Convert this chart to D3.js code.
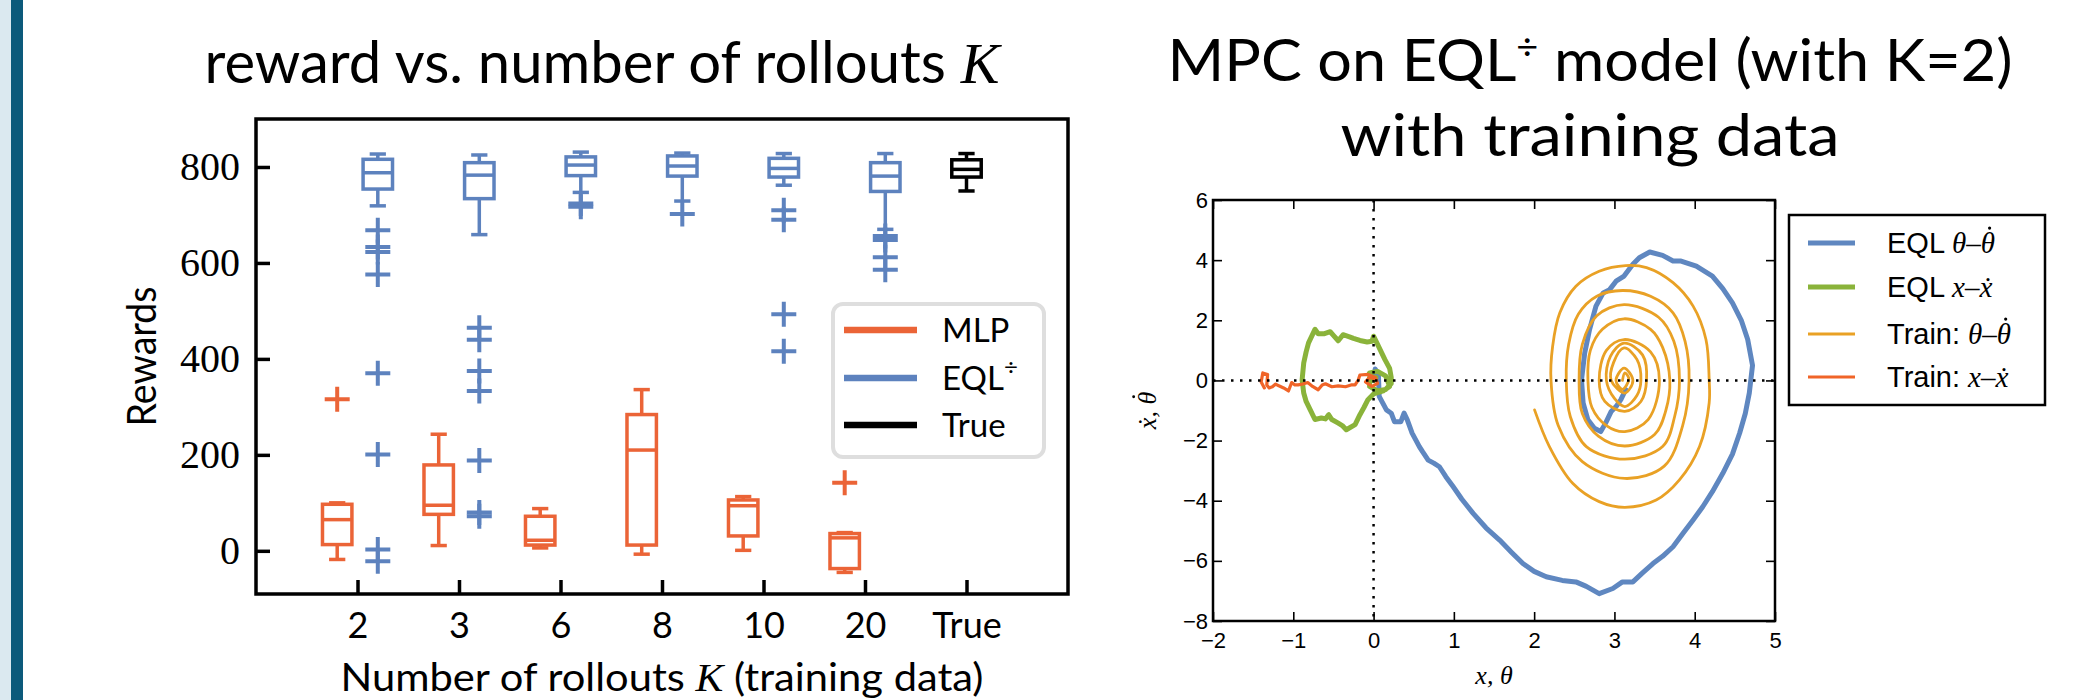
<!DOCTYPE html>
<html><head><meta charset="utf-8">
<script src="https://cdn.jsdelivr.net/npm/d3@7"></script>
<style>body{margin:0;background:#fff}svg{display:block}</style>
</head><body>
<svg id="c" width="2100" height="700"></svg>
<script>
// ---------------- DATA: left chart (box plots) ----------------
const categories = ["2","3","6","8","10","20","True"];
// MLP (first six categories)
const mlpLow    = [-18, 11,  6,  -7,   1, -45];
const mlpQ1     = [ 13, 76, 12,  12,  31, -37];
const mlpMedian = [ 65, 95, 22, 210,  94,  27];
const mlpQ3     = [ 97,179, 72, 284, 106,  36];
const mlpHigh   = [100,243, 88, 336, 113,  38];
const mlpOutliers = [[316],[],[],[],[],[142]];
// EQL÷ (first six categories)
const eqlLow    = [719,659,747,729,762,670];
const eqlQ1     = [754,734,782,781,779,749];
const eqlMedian = [788,783,804,802,797,781];
const eqlQ3     = [816,809,821,823,818,809];
const eqlHigh   = [827,825,831,829,828,828];
const eqlOutliers = [
  [668,633,623,576,370,201,3,-22],
  [465,440,375,333,188,80,72],
  [724,717],
  [702],
  [710,690,493,416],
  [656,648,612,586]
];
// True
const trueStats = {low:750,q1:779,median:795,q3:815,high:828};
const yTicksLeft = [0,200,400,600,800];
const legendLeft = ["MLP","EQL","True"];

// ---------------- DATA: right chart (phase portraits) ----------------
const eqlThetaPath = [[0.0,0.0],[0.02,0.38],[0.06,0.2],[0.07,-0.53],[0.16,-0.98],[0.22,-1.09],[0.26,-1.37],[0.34,-1.37],[0.38,-1.09],[0.42,-1.31],[0.48,-1.75],[0.57,-2.2],[0.61,-2.37],[0.68,-2.65],[0.75,-2.75],[0.82,-2.87],[0.9,-3.2],[0.99,-3.53],[1.1,-3.95],[1.24,-4.42],[1.4,-4.9],[1.57,-5.31],[1.72,-5.72],[1.86,-6.09],[2.0,-6.35],[2.15,-6.53],[2.35,-6.65],[2.52,-6.70],[2.65,-6.85],[2.81,-7.09],[2.98,-6.92],[3.10,-6.70],[3.23,-6.70],[3.35,-6.4],[3.48,-6.09],[3.6,-5.85],[3.73,-5.53],[3.85,-5.1],[3.98,-4.64],[4.10,-4.2],[4.22,-3.7],[4.35,-3.09],[4.47,-2.45],[4.56,-1.75],[4.63,-1.1],[4.68,-0.42],[4.72,0.5],[4.66,1.36],[4.58,2.0],[4.47,2.58],[4.35,3.05],[4.22,3.47],[4.02,3.8],[3.83,3.97],[3.73,3.97],[3.60,4.16],[3.44,4.27],[3.31,4.08],[3.23,3.86],[3.12,3.47],[3.02,3.3],[2.94,3.02],[2.86,2.91],[2.77,2.47],[2.69,1.69],[2.63,0.91],[2.59,0.02],[2.61,-0.75],[2.67,-1.31],[2.75,-1.59],[2.83,-1.7],[2.89,-1.42],[2.96,-1.03],[3.02,-0.87],[3.08,-0.64],[3.14,-0.31]];
const eqlXPath = [[0.0,0.0],[-0.05,0.25],[0.05,0.3],[0.15,0.15],[0.2,-0.2],[0.12,-0.35],[0.0,-0.45],[-0.07,-0.64],[-0.12,-0.9],[-0.17,-1.14],[-0.23,-1.47],[-0.34,-1.64],[-0.39,-1.5],[-0.44,-1.42],[-0.52,-1.3],[-0.56,-1.14],[-0.6,-1.28],[-0.65,-1.25],[-0.73,-1.3],[-0.79,-0.97],[-0.84,-0.7],[-0.87,-0.42],[-0.89,0.02],[-0.87,0.58],[-0.84,0.95],[-0.81,1.25],[-0.73,1.7],[-0.69,1.55],[-0.62,1.55],[-0.54,1.62],[-0.50,1.5],[-0.44,1.32],[-0.38,1.52],[-0.30,1.45],[-0.25,1.4],[-0.17,1.33],[-0.08,1.28],[-0.02,1.3],[0.0,1.47],[0.05,1.2],[0.14,0.7],[0.2,0.4],[0.22,0.1],[0.22,-0.1],[0.15,-0.3],[0.05,-0.35],[-0.05,-0.2],[-0.05,0.1],[0.03,0.1]];
const trainThetaPath = [[2.005,-0.98],[2.19,-2.2],[2.48,-3.42],[2.81,-4.03],[3.13,-4.22],[3.52,-3.98],[3.81,-3.31],[4.06,-2.2],[4.18,-0.75],[4.18,0.02],[4.14,1.36],[3.98,2.47],[3.73,3.25],[3.40,3.75],[3.14,3.82],[2.81,3.63],[2.52,3.13],[2.32,2.25],[2.23,1.13],[2.21,0.0],
 [2.3,-1.5],[2.6,-2.7],[3.13,-3.26],[3.62,-2.85],[3.85,-1.5],[3.93,0.0],[3.88,1.3],[3.73,2.25],[3.45,2.8],[3.10,2.99],[2.78,2.8],[2.55,2.2],[2.43,1.2],[2.40,0.0],
 [2.45,-1.2],[2.65,-2.2],[3.13,-2.62],[3.6,-2.2],[3.75,-1.2],[3.81,0.0],[3.74,1.3],[3.55,2.1],[3.12,2.52],[2.78,2.15],[2.6,1.2],[2.56,0.0],
 [2.6,-1.1],[2.8,-1.85],[3.13,-2.18],[3.5,-1.8],[3.64,-1.0],[3.69,0.0],[3.6,1.1],[3.45,1.7],[3.12,2.05],[2.85,1.7],[2.7,1.0],[2.67,0.0],
 [2.72,-0.9],[2.9,-1.5],[3.13,-1.70],[3.42,-1.3],[3.56,0.0],[3.45,0.95],[3.12,1.36],[2.9,1.0],[2.81,0.0],
 [2.88,-0.7],[3.13,-1.03],[3.33,-0.7],[3.40,0.0],[3.35,0.85],[3.12,1.24],[2.95,0.8],[2.90,0.0],
 [3.0,-0.6],[3.13,-0.87],[3.28,-0.5],[3.33,0.0],[3.28,0.7],[3.12,1.08],[2.99,0.6],[2.96,0.0],
 [3.13,-0.42],[3.23,0.0],[3.12,0.41],[3.02,0.0],[3.10,-0.3],[3.18,0.05],[3.13,0.25],[3.10,0.0]];
const trainXPath = [[-1.36,-0.25],[-1.40,-0.05],[-1.38,0.25],[-1.32,0.2],[-1.33,-0.15],[-1.30,-0.25],[-1.26,-0.21],[-1.22,-0.12],[-1.18,-0.18],[-1.12,-0.25],[-1.06,-0.35],[-1.02,-0.07],[-0.98,-0.15],[-0.94,-0.15],[-0.88,-0.12],[-0.82,-0.07],[-0.76,-0.2],[-0.69,-0.31],[-0.64,-0.15],[-0.60,-0.11],[-0.52,-0.21],[-0.44,-0.18],[-0.35,-0.21],[-0.28,-0.15],[-0.23,-0.15],[-0.19,0.02],[-0.17,0.18],[-0.07,0.2],[0.02,0.1],[0.05,-0.1],[-0.02,-0.2],[-0.1,-0.05],[-0.05,0.1],[0.03,0.05]];
const xTicksRight = [-2,-1,0,1,2,3,4,5];
const yTicksRight = [-8,-6,-4,-2,0,2,4,6];

// ---------------- STYLE ----------------
const SANS = "Lato, 'Noto Sans', sans-serif";
const SERIF = "'Liberation Serif', 'DejaVu Serif', serif";
const ARIAL = "'Liberation Sans', Arial, sans-serif";
const C_MLP = "#eb6437", C_EQL = "#5d82be";
const C_B = "#5f87c0", C_G = "#8ab33a", C_O = "#e9a125", C_R = "#f06428";

const svg = d3.select("#c");
svg.append("rect").attr("x",0).attr("y",0).attr("width",11).attr("height",700).attr("fill","#dbe9f0");
svg.append("rect").attr("x",11).attr("y",0).attr("width",12).attr("height",700).attr("fill","#0c5a7b");

// accent dot over the last character of a text element (in the text's own coordinate system)
function dotOverLast(g, textSel, baseline, fs){
  const node = textSel.node();
  const n = node.getNumberOfChars();
  if(!n) return;
  const ext = node.getExtentOfChar(n-1);
  g.append("circle").attr("cx", ext.x + ext.width*0.62).attr("cy", baseline - fs*0.86)
    .attr("r", fs*0.055).attr("fill","#000");
}

// ================= LEFT CHART =================
const L = {x0:256, x1:1068, y0:119, y1:594};
const xL = d3.scaleLinear().domain([0,8]).range([L.x0,L.x1]);
const yL = d3.scaleLinear().domain([-90,900]).range([L.y1,L.y0]);

const t1 = svg.append("text").attr("x",602).attr("y",83).attr("text-anchor","middle")
  .attr("font-family",SANS).attr("font-size",58).attr("textLength",795).attr("lengthAdjust","spacingAndGlyphs");
t1.append("tspan").text("reward vs. number of rollouts ");
t1.append("tspan").attr("font-family",SERIF).attr("font-style","italic").text("K");

const gyL = svg.append("g").attr("transform",`translate(${L.x0},0)`)
  .call(d3.axisLeft(yL).tickValues(yTicksLeft).tickSizeInner(-14).tickSizeOuter(0).tickPadding(16).tickFormat(d3.format("d")));
const gxL = svg.append("g").attr("transform",`translate(0,${L.y1})`)
  .call(d3.axisBottom(xL).tickValues(d3.range(1,categories.length+1)).tickSizeInner(-14).tickSizeOuter(0).tickPadding(18).tickFormat(i=>categories[i-1]));
[gyL,gxL].forEach(g=>{g.select(".domain").remove(); g.selectAll(".tick line").attr("stroke","#000").attr("stroke-width",3.5);});
gyL.selectAll("text").attr("font-family",SERIF).attr("font-size",40).attr("fill","#000");
gxL.selectAll("text").attr("font-family",SANS).attr("font-size",36).attr("fill","#000");

const bw = xL(0.29)-xL(0), cw = xL(0.16)-xL(0);
function drawBox(g, cx, s, color){
  const gg = g.append("g").attr("stroke",color).attr("fill","none").attr("stroke-width",3.5);
  gg.append("line").attr("x1",cx).attr("x2",cx).attr("y1",yL(s.q3)).attr("y2",yL(s.high));
  gg.append("line").attr("x1",cx).attr("x2",cx).attr("y1",yL(s.q1)).attr("y2",yL(s.low));
  gg.append("line").attr("x1",cx-cw/2).attr("x2",cx+cw/2).attr("y1",yL(s.high)).attr("y2",yL(s.high));
  gg.append("line").attr("x1",cx-cw/2).attr("x2",cx+cw/2).attr("y1",yL(s.low)).attr("y2",yL(s.low));
  gg.append("rect").attr("x",cx-bw/2).attr("width",bw).attr("y",yL(s.q3)).attr("height",yL(s.q1)-yL(s.q3));
  gg.append("line").attr("x1",cx-bw/2).attr("x2",cx+bw/2).attr("y1",yL(s.median)).attr("y2",yL(s.median));
  (s.out||[]).forEach(v=>{
    const y=yL(v);
    gg.append("path").attr("stroke-width",4).attr("d",`M${cx-12.5},${y}H${cx+12.5}M${cx},${y-12.5}V${y+12.5}`);
  });
}
const gBoxes = svg.append("g");
for(let i=0;i<6;i++){
  drawBox(gBoxes, xL(i+1-0.2), {low:mlpLow[i],q1:mlpQ1[i],median:mlpMedian[i],q3:mlpQ3[i],high:mlpHigh[i],out:mlpOutliers[i]}, C_MLP);
  drawBox(gBoxes, xL(i+1+0.2), {low:eqlLow[i],q1:eqlQ1[i],median:eqlMedian[i],q3:eqlQ3[i],high:eqlHigh[i],out:eqlOutliers[i]}, C_EQL);
}
drawBox(gBoxes, xL(7), trueStats, "#000");

svg.append("rect").attr("x",L.x0).attr("y",L.y0).attr("width",L.x1-L.x0).attr("height",L.y1-L.y0)
  .attr("fill","none").attr("stroke","#000").attr("stroke-width",3.5);

// axis labels
svg.append("text").attr("transform",`translate(156,${(L.y0+L.y1)/2}) rotate(-90)`).attr("text-anchor","middle")
  .attr("font-family",SANS).attr("font-size",40).attr("textLength",140).attr("lengthAdjust","spacingAndGlyphs").text("Rewards");
const xl = svg.append("text").attr("x",(L.x0+L.x1)/2).attr("y",691).attr("text-anchor","middle")
  .attr("font-family",SANS).attr("font-size",39).attr("textLength",643).attr("lengthAdjust","spacingAndGlyphs");
xl.append("tspan").text("Number of rollouts ");
xl.append("tspan").attr("font-family",SERIF).attr("font-style","italic").text("K");
xl.append("tspan").text(" (training data)");

// legend left
const lg = svg.append("g");
lg.append("rect").attr("x",833).attr("y",304).attr("width",211).attr("height",153).attr("rx",10)
  .attr("fill","#fff").attr("stroke","#dedede").attr("stroke-width",4);
const lgColors=[C_MLP,C_EQL,"#000"], lgY=[330,378,425];
legendLeft.forEach((name,i)=>{
  lg.append("line").attr("x1",844).attr("x2",917).attr("y1",lgY[i]).attr("y2",lgY[i]).attr("stroke",lgColors[i]).attr("stroke-width",6.5);
  const t = lg.append("text").attr("x",942).attr("y",lgY[i]+12).attr("font-family",SANS).attr("font-size",33).text(name);
  if(name==="EQL") t.append("tspan").attr("font-size",24).attr("dy",-15).text("÷");
});

// ================= RIGHT CHART =================
const R = {x0:1213, x1:1775, y0:200, y1:621};
const xR = d3.scaleLinear().domain([-2,5]).range([R.x0,R.x1]);
const yR = d3.scaleLinear().domain([-8,6]).range([R.y1,R.y0]);

const tt = svg.append("text").attr("x",1590).attr("y",81).attr("text-anchor","middle")
  .attr("font-family",SANS).attr("font-size",58).attr("textLength",845).attr("lengthAdjust","spacingAndGlyphs");
tt.append("tspan").text("MPC on EQL");
tt.append("tspan").attr("font-size",36).attr("dy",-22).text("÷");
tt.append("tspan").attr("dy",22).text(" model (with K=2)");
svg.append("text").attr("x",1590).attr("y",156).attr("text-anchor","middle")
  .attr("font-family",SANS).attr("font-size",58).attr("textLength",499).attr("lengthAdjust","spacingAndGlyphs").text("with training data");

const line = d3.line().x(d=>xR(d[0])).y(d=>yR(d[1]));
const smooth = d3.line().x(d=>xR(d[0])).y(d=>yR(d[1])).curve(d3.curveCatmullRom.alpha(0.5));
const gc = svg.append("g").attr("fill","none").attr("stroke-linejoin","round").attr("stroke-linecap","round");
gc.append("path").attr("d",line(eqlThetaPath)).attr("stroke",C_B).attr("stroke-width",5);
gc.append("path").attr("d",line(eqlXPath)).attr("stroke",C_G).attr("stroke-width",5);
gc.append("path").attr("d",smooth(trainThetaPath)).attr("stroke",C_O).attr("stroke-width",2.8);
gc.append("path").attr("d",line(trainXPath)).attr("stroke",C_R).attr("stroke-width",3.2);

// dotted zero lines
svg.append("line").attr("x1",R.x0).attr("x2",R.x1).attr("y1",yR(0)).attr("y2",yR(0))
  .attr("stroke","#000").attr("stroke-width",2.5).attr("stroke-dasharray","2.5,6.5");
svg.append("line").attr("x1",xR(0)).attr("x2",xR(0)).attr("y1",R.y0).attr("y2",R.y1)
  .attr("stroke","#000").attr("stroke-width",2.5).attr("stroke-dasharray","2.5,6.5");

const fmt = d3.format("d");
const axB = svg.append("g").attr("transform",`translate(0,${R.y1})`).call(d3.axisBottom(xR).tickValues(xTicksRight).tickSizeInner(-9).tickSizeOuter(0).tickPadding(11).tickFormat(fmt));
const axT = svg.append("g").attr("transform",`translate(0,${R.y0})`).call(d3.axisTop(xR).tickValues(xTicksRight).tickSizeInner(-9).tickSizeOuter(0).tickFormat(()=>""));
const axLft = svg.append("g").attr("transform",`translate(${R.x0},0)`).call(d3.axisLeft(yR).tickValues(yTicksRight).tickSizeInner(-9).tickSizeOuter(0).tickPadding(5).tickFormat(fmt));
const axRt = svg.append("g").attr("transform",`translate(${R.x1},0)`).call(d3.axisRight(yR).tickValues(yTicksRight).tickSizeInner(-9).tickSizeOuter(0).tickFormat(()=>""));
[axB,axT,axLft,axRt].forEach(g=>{g.select(".domain").remove(); g.selectAll(".tick line").attr("stroke","#000").attr("stroke-width",1.6);
  g.selectAll("text").attr("font-family",ARIAL).attr("font-size",22).attr("fill","#000");});
svg.append("rect").attr("x",R.x0).attr("y",R.y0).attr("width",R.x1-R.x0).attr("height",R.y1-R.y0)
  .attr("fill","none").attr("stroke","#000").attr("stroke-width",2.5);

svg.append("text").attr("x",(R.x0+R.x1)/2).attr("y",684).attr("text-anchor","middle")
  .attr("font-family",SERIF).attr("font-style","italic").attr("font-size",26).text("x, θ");

// legend right (drawn before the y label so an error in one cannot hide the other)
const lr = svg.append("g");
lr.append("rect").attr("x",1789).attr("y",215).attr("width",256).attr("height",190).attr("fill","#fff").attr("stroke","#000").attr("stroke-width",2.5);
const lrItems = [
  {pre:"EQL ", math:"θ–θ", dot:true, c:C_B, w:5},
  {pre:"EQL ", math:"x–ẋ", dot:false, c:C_G, w:5},
  {pre:"Train: ", math:"θ–θ", dot:true, c:C_O, w:3},
  {pre:"Train: ", math:"x–ẋ", dot:false, c:C_R, w:3}
];
const lrY = [243,287,334,377];
lrItems.forEach((it,i)=>{
  lr.append("line").attr("x1",1808).attr("x2",1855).attr("y1",lrY[i]).attr("y2",lrY[i]).attr("stroke",it.c).attr("stroke-width",it.w);
  const base = lrY[i]+10;
  const t = lr.append("text").attr("x",1887).attr("y",base).attr("font-family",ARIAL).attr("font-size",29);
  t.append("tspan").text(it.pre);
  t.append("tspan").attr("font-family",SERIF).attr("font-style","italic").text(it.math);
  if(it.dot) dotOverLast(lr, t, base, 29);
});

// y label (rotated), theta gets an accent dot
const ylg = svg.append("g").attr("transform",`translate(1156,${(R.y0+R.y1)/2}) rotate(-90)`);
const ylt = ylg.append("text").attr("x",0).attr("y",0).attr("text-anchor","middle")
  .attr("font-family",SERIF).attr("font-style","italic").attr("font-size",26).text("ẋ, θ");
dotOverLast(ylg, ylt, 0, 26);
</script>
</body></html>
